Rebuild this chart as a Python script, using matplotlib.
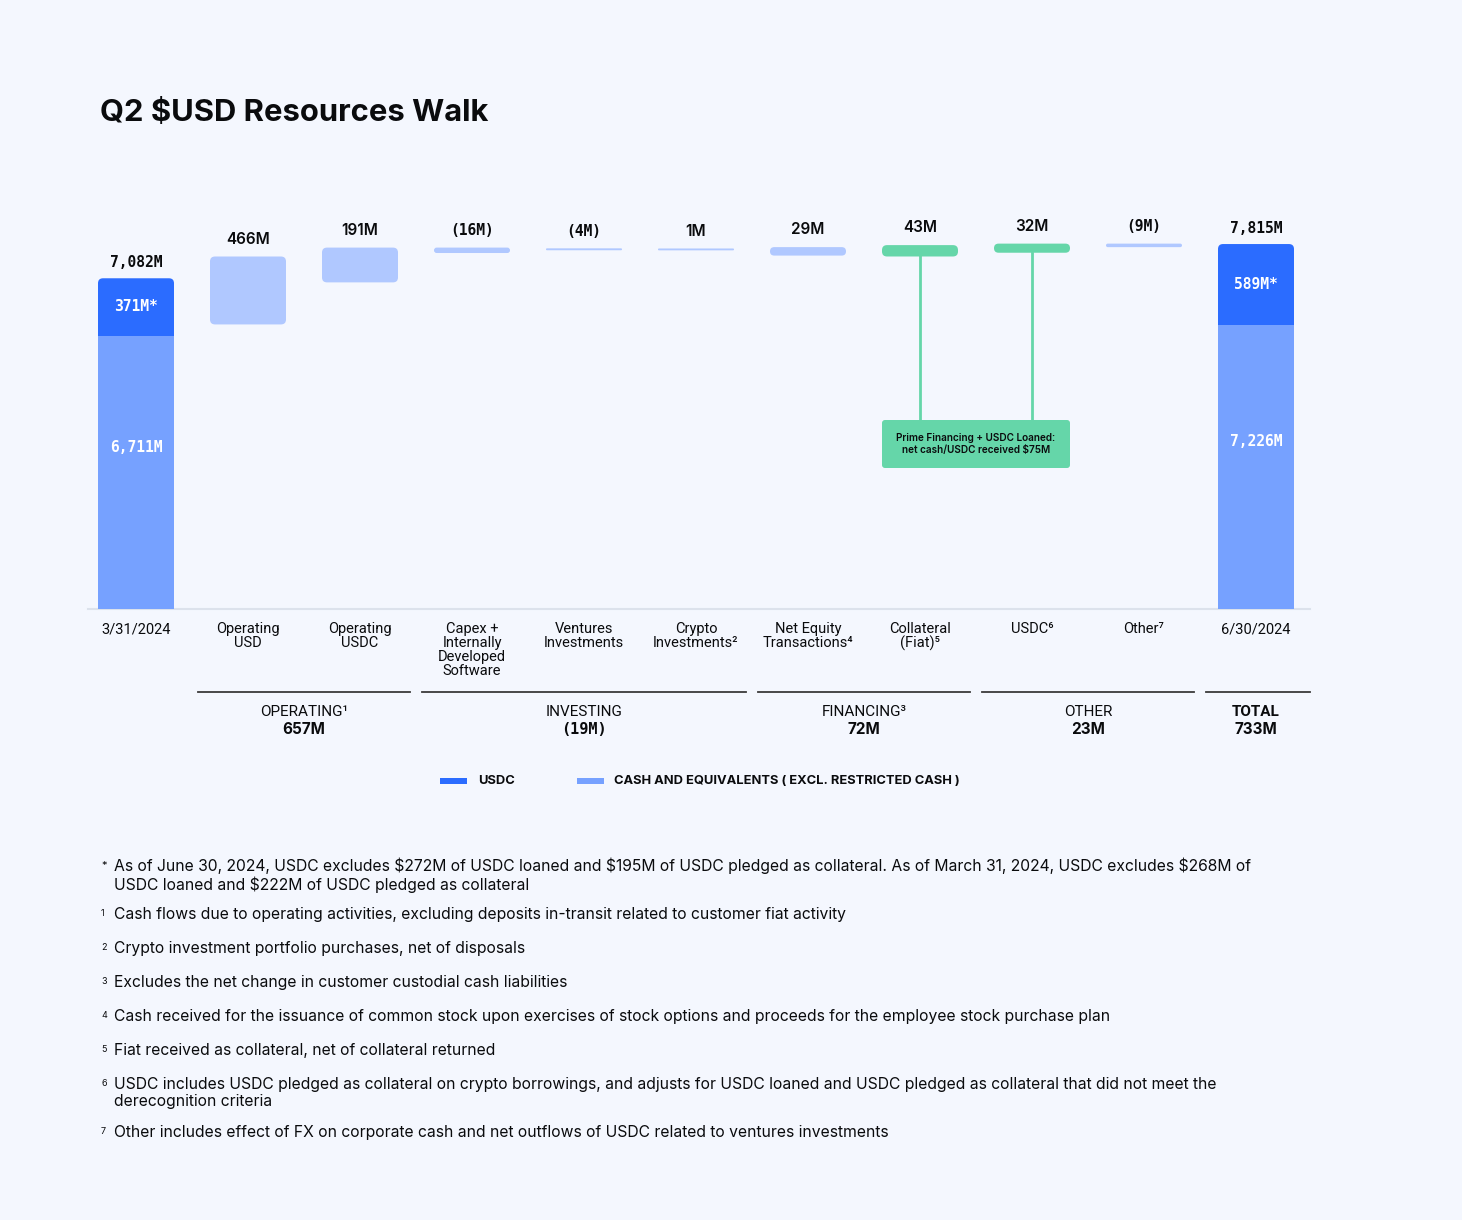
import matplotlib
matplotlib.use("Agg")
import matplotlib.pyplot as plt
from matplotlib.patches import FancyBboxPatch, Rectangle
from matplotlib.transforms import blended_transform_factory

# colores
BG = "#F4F7FE"
USDC_C = "#2B6CFF"
CASH_C = "#76A1FF"
STEP_C = "#B0C8FF"
GREEN = "#65D6A9"
TXT = "#0A0B0D"

# datos (millones de USD)
start_label = "3/31/2024"
start_usdc = 371
start_cash = 6711
start_total = 7082

end_label = "6/30/2024"
end_usdc = 589
end_cash = 7226
end_total = 7815

step_names = ["Operating\nUSD", "Operating\nUSDC", "Capex +\nInternally\nDeveloped\nSoftware",
              "Ventures\nInvestments", "Crypto\nInvestments²", "Net Equity\nTransactions⁴",
              "Collateral\n(Fiat)⁵", "USDC⁶", "Other⁷"]
step_values = [466, 191, -16, -4, 1, 29, 43, 32, -9]
step_text = ["466M", "191M", "(16M)", "(4M)", "1M", "29M", "43M", "32M", "(9M)"]
step_colors = [STEP_C, STEP_C, STEP_C, STEP_C, STEP_C, STEP_C, GREEN, GREEN, STEP_C]

groups = ["OPERATING¹", "INVESTING", "FINANCING³", "OTHER", "TOTAL"]
group_values = ["657M", "(19M)", "72M", "23M", "733M"]
group_span = [(1, 2), (3, 5), (6, 7), (8, 9), (10, 10)]

footnotes = [
    ("*", "As of June 30, 2024, USDC excludes $272M of USDC loaned and $195M of USDC pledged as collateral. As of March 31, 2024, USDC excludes $268M of\nUSDC loaned and $222M of USDC pledged as collateral"),
    ("1", "Cash flows due to operating activities, excluding deposits in-transit related to customer fiat activity"),
    ("2", "Crypto investment portfolio purchases, net of disposals"),
    ("3", "Excludes the net change in customer custodial cash liabilities"),
    ("4", "Cash received for the issuance of common stock upon exercises of stock options and proceeds for the employee stock purchase plan"),
    ("5", "Fiat received as collateral, net of collateral returned"),
    ("6", "USDC includes USDC pledged as collateral on crypto borrowings, and adjusts for USDC loaned and USDC pledged as collateral that did not meet the\nderecognition criteria"),
    ("7", "Other includes effect of FX on corporate cash and net outflows of USDC related to ventures investments"),
]
footnote_y = [875, 914, 948, 982, 1016, 1050, 1093, 1132]

W, H = 1462, 1220
PX = 0.0467  # pixeles por millon en el eje


def disp(v):
    # la grafica original no esta a escala: los pasos se exageran
    return max(14.5 * abs(v) ** 0.75, 40)


fig = plt.figure(figsize=(W / 100, H / 100), dpi=100, facecolor=BG)
ax = fig.add_axes([80 / W, (H - 609) / H, (1312 - 80) / W, 467 / H])
ax.set_facecolor(BG)
ax.set_xlim(-0.5, 10.5)
ax.set_ylim(0, 467 / PX)
ax.axis("off")

aspect = (1 / PX) / (1 / 112.0)
bw = 76 / 112.0
mono = "DejaVu Sans Mono"
sans = ["Inter", "DejaVu Sans"]
cond = ["Roboto", "DejaVu Sans"]


def rbox(x, bottom, h, color, r_px=5):
    r = min(r_px, h * PX / 2) / 112.0
    p = FancyBboxPatch((x - bw / 2, bottom), bw, h,
                       boxstyle="round,pad=0,rounding_size=%f" % r,
                       mutation_aspect=aspect, fc=color, ec="none", zorder=3)
    ax.add_patch(p)


def total_bar(x, total, usdc, label, usdc_text, cash_text):
    hu = disp(usdc)
    ax.bar(x, total - hu, width=bw, color=CASH_C, zorder=3)
    rbox(x, total - hu, hu, USDC_C)
    ax.add_patch(Rectangle((x - bw / 2, total - hu), bw, hu / 2, fc=USDC_C, ec="none", zorder=3))
    ax.annotate(label, (x, total), xytext=(0, 6), textcoords="offset points",
                ha="center", va="bottom", fontsize=10.5, family=mono, color=TXT,
                fontweight="bold")
    ax.text(x, total - hu / 2, usdc_text, ha="center", va="center", fontsize=10.5,
            family=mono, color="white", zorder=4, fontweight="bold")
    ax.text(x, (total - hu) * 0.59, cash_text, ha="center", va="center", fontsize=10.5,
            family=mono, color="white", zorder=4, fontweight="bold")


total_bar(0, start_total, start_usdc, "7,082M", "371M*", "6,711M")
total_bar(10, end_total, end_usdc, "7,815M", "589M*", "7,226M")

cum = start_total
bottoms = []
for i, (v, t, c) in enumerate(zip(step_values, step_text, step_colors)):
    before = cum
    cum += v
    top = max(before, cum)
    h = disp(v)
    rbox(i + 1, top - h, h, c)
    bottoms.append(top - h)
    fam = mono if "(" in t else sans
    ax.annotate(t, (i + 1, top), xytext=(0, 7), textcoords="offset points",
                ha="center", va="bottom", fontsize=10.5 if "(" in t else 11, family=fam,
                color=TXT, fontweight="bold" if "(" in t else "semibold")

# nota verde
ybox_top = (609 - 420) / PX
ybox_bot = (609 - 468) / PX
for i in (7, 8):
    ax.plot([i, i], [bottoms[i - 1], ybox_top], color=GREEN, lw=2, zorder=2)
ax.add_patch(FancyBboxPatch(((882 - 136) / 112, ybox_bot), 188 / 112, ybox_top - ybox_bot,
                            boxstyle="round,pad=0,rounding_size=%f" % (3 / 112),
                            mutation_aspect=aspect, fc=GREEN, ec="none", zorder=3))
ax.text(7.5, (ybox_top + ybox_bot) / 2, "Prime Financing + USDC Loaned:\nnet cash/USDC received $75M",
        ha="center", va="center", fontsize=7.2, family=sans, fontweight="semibold",
        color=TXT, zorder=4, linespacing=1.2, parse_math=False)

# eje base
ax.plot([(88 - 136) / 112, (1310 - 136) / 112], [0, 0], color="#DCE2EC", lw=1.5,
        zorder=2, clip_on=False)

tr = blended_transform_factory(ax.transData, fig.transFigure)
cats = [start_label] + step_names + [end_label]
for i, c in enumerate(cats):
    fig.text(i, (H - 622) / H, c, transform=tr, ha="center", va="top", fontsize=10.5,
             family=cond, color=TXT, linespacing=1.0)

for (a, b), g, v in zip(group_span, groups, group_values):
    x0 = a - 50 / 112
    x1 = b + (54 if a == 10 else 50) / 112
    fig.add_artist(plt.Line2D([x0, x1], [(H - 692) / H] * 2, transform=tr,
                              color="#3A3A3A", lw=1.3))
    xc = (a + b) / 2
    bold = "bold" if g == "TOTAL" else "normal"
    fig.text(xc, (H - 712) / H, g, transform=tr, ha="center", va="center", fontsize=11,
             family=cond, color=TXT, fontweight=bold)
    fig.text(xc, (H - 730) / H, v, transform=tr, ha="center", va="center", fontsize=11,
             family=mono if "(" in v else sans, color=TXT, fontweight="bold")

# leyenda
fig.add_artist(Rectangle((440 / W, (H - 784) / H), 27 / W, 6 / H, transform=fig.transFigure,
                         fc=USDC_C, ec="none"))
fig.text(478 / W, (H - 781) / H, "USDC", ha="left", va="center", fontsize=9.3,
         family=sans, fontweight="bold", color=TXT)
fig.add_artist(Rectangle((577 / W, (H - 784) / H), 27 / W, 6 / H, transform=fig.transFigure,
                         fc=CASH_C, ec="none"))
fig.text(614 / W, (H - 781) / H, "CASH AND EQUIVALENTS ( EXCL. RESTRICTED CASH )", ha="left",
         va="center", fontsize=9.3, family=sans, fontweight="bold", color=TXT)

# titulo
fig.text(100 / W, (H - 113) / H, "Q2 $USD Resources Walk", ha="left", va="center",
         fontsize=22.3, family=sans, fontweight="bold", color=TXT, parse_math=False)

# notas al pie
for (m, t), y in zip(footnotes, footnote_y):
    first = y - 9 if "\n" in t else y
    fig.text(101 / W, (H - first) / H, m, ha="left", va="center", fontsize=8 if m == "*" else 6.5,
             family=sans, color=TXT)
    fig.text(114 / W, (H - y) / H, t, ha="left", va="center", fontsize=11.3, family=sans,
             color=TXT, linespacing=1.15, parse_math=False)

fig.savefig("out.png", dpi=100, facecolor=BG)
